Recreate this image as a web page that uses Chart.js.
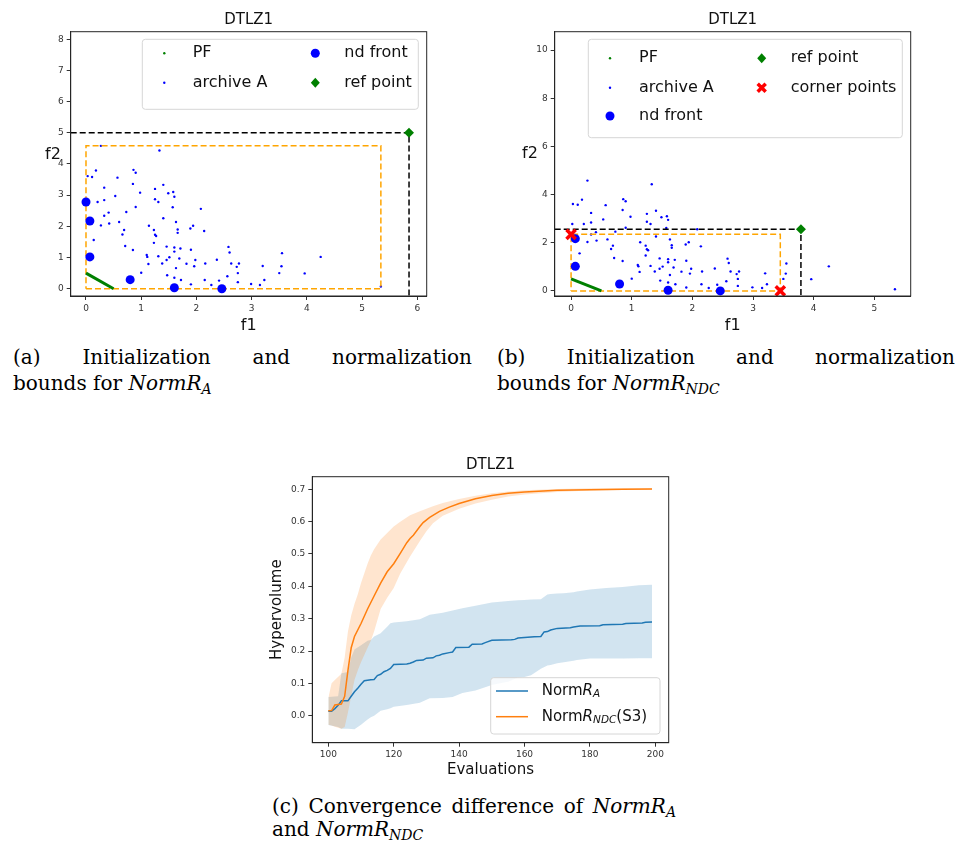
<!DOCTYPE html>
<html>
<head>
<meta charset="utf-8">
<script src="https://cdn.jsdelivr.net/npm/chart.js@4.4.0/dist/chart.umd.min.js"></script>
<style>
  body { margin: 0; background: #fff; }
  #page { position: relative; width: 969px; height: 847px; overflow: hidden; }
  canvas { position: absolute; }
  .cap { position: absolute; font-family: "DejaVu Serif", serif; font-size: 20px; line-height: 26px; color: #000; white-space: nowrap; }
  .just { text-align: justify; text-align-last: justify; white-space: normal; }
  .cap sub { font-size: 14px; vertical-align: -4px; }
</style>
</head>
<body>
<div id="page">
  <canvas id="chartA" width="470" height="340" style="left:0;top:0"></canvas>
  <canvas id="chartB" width="470" height="340" style="left:484px;top:0"></canvas>
  <canvas id="chartC" width="440" height="345" style="left:258px;top:440px"></canvas>

  <div class="cap just" style="left:13px;top:344px;width:459px">(a) Initialization and normalization</div>
  <div class="cap" style="left:13px;top:370px">bounds for <i>NormR</i><sub><i>A</i></sub></div>
  <div class="cap just" style="left:497px;top:344px;width:458px">(b) Initialization and normalization</div>
  <div class="cap" style="left:497px;top:370px">bounds for <i>NormR</i><sub><i>NDC</i></sub></div>
  <div class="cap just" style="left:272px;top:793px;width:404px">(c) Convergence difference of <i>NormR</i><sub><i>A</i></sub></div>
  <div class="cap" style="left:272px;top:816px">and <i>NormR</i><sub><i>NDC</i></sub></div>
</div>
<script>
// archive A (same archive in both scatter plots)
var archF1 = [0.03, 0.11, 0.18, 0.21, 0.14, 0.27, 0.33, 0.33, 0.33, 0.41, 0.42, 0.53, 0.57, 0.60, 0.66, 0.69, 0.73, 0.71, 0.85, 0.86,
              0.90, 0.90, 0.85, 0.98, 1.00, 1.10, 1.11, 1.13, 1.14, 1.23, 1.23, 1.25, 1.25, 1.25, 1.27, 1.31, 1.31, 1.33, 1.38, 1.40,
              1.40, 1.46, 1.47, 1.46, 1.49, 1.51, 1.58, 1.57, 1.60, 1.60, 1.60, 1.60, 1.63, 1.63, 1.66, 1.66, 1.69, 1.71, 1.72, 1.82,
              1.90, 1.90, 1.89, 1.94, 1.96, 1.98, 2.08, 2.14, 2.16, 2.15, 2.27, 2.37, 2.41, 2.56, 2.58, 2.60, 2.63, 2.73, 2.75, 2.75,
              2.77, 2.99, 3.15, 3.20, 3.23, 3.50, 3.54, 3.55, 3.96, 4.25, 5.34, 0.27, 0.02];
var archF2 = [3.61, 3.58, 3.79, 2.78, 1.56, 2.03, 2.34, 2.84, 3.24, 2.44, 2.09, 2.97, 3.56, 2.14, 1.74, 1.88, 2.46, 1.37, 3.36, 3.81,
              3.72, 2.62, 1.24, 3.08, 0.51, 1.08, 1.02, 0.79, 2.02, 1.88, 1.47, 3.20, 2.87, 1.73, 1.69, 2.78, 1.04, 4.43, 0.81, 3.33,
              2.26, 1.35, 0.43, 0.92, 3.06, 1.01, 3.10, 2.61, 2.95, 1.32, 1.19, 0.35, 0.66, 2.14, 1.90, 1.79, 0.97, 1.29, 0.28, 0.80,
              1.25, 0.14, 1.93, 2.02, 0.72, 0.92, 2.56, 1.85, 0.81, 0.28, 0.12, 0.93, 0.26, 0.40, 1.34, 1.16, 0.81, 0.70, 0.50, 0.21,
              0.81, 0.15, 0.12, 0.73, 0.28, 0.50, 0.72, 1.14, 0.49, 1.02, 0.07, 4.58, 2.78];

var pfF1 = [0, 0.5];
var pfF2 = [0.5, 0];

var ndF1A = [0.00, 0.07, 0.07, 0.80, 1.60, 2.46];
var ndF2A = [2.78, 2.17, 1.02, 0.29, 0.03, 0.00];
var ndF1B = [0.07, 0.07, 0.80, 1.60, 2.46];
var ndF2B = [2.17, 1.02, 0.29, 0.03, 0.00];

// [f1, f2] of ref point, and normalization box corners
var refA = [5.85, 5.0];
var refB = [3.79, 2.56];
var boxA = [0, 0, 5.34, 4.58];
var boxB = [0, 0, 3.45, 2.35];
var cornerF1 = [0, 3.45];
var cornerF2 = [2.35, 0];

// convergence plot (c)
var evalsA = [100, 101, 102, 103, 104, 106, 107, 108, 109, 110, 111, 113, 114, 115, 116, 117, 118, 119, 120, 124, 125, 126, 127, 129,
              130, 132, 133, 134, 135, 137, 138, 139, 143, 144, 147, 148, 150, 156, 157, 158, 163, 165, 166, 167, 168, 170, 174,
              175, 177, 183, 184, 190, 191, 196, 197, 199];
var hvA = [0.014, 0.014, 0.022, 0.032, 0.046, 0.046, 0.060, 0.074, 0.085, 0.097, 0.108, 0.111, 0.112, 0.124, 0.128, 0.136, 0.140,
           0.146, 0.158, 0.160, 0.162, 0.166, 0.171, 0.172, 0.178, 0.179, 0.185, 0.187, 0.191, 0.195, 0.197, 0.211, 0.212,
           0.221, 0.222, 0.226, 0.233, 0.235, 0.236, 0.240, 0.244, 0.245, 0.259, 0.260, 0.265, 0.270, 0.272, 0.274, 0.277,
           0.278, 0.281, 0.283, 0.285, 0.287, 0.289, 0.290];
var bandXA = [100, 103, 104, 106, 107, 108, 110, 112, 113, 114, 116, 118, 119, 120, 124, 128, 131, 135, 138, 141, 145, 150, 155,
              158, 160, 162, 165, 167, 168, 170, 172, 175, 176, 180, 185, 190, 195, 199];
var hvALo = [-0.029, -0.035, -0.040, -0.040, -0.041, -0.042, -0.028, -0.012, -0.005, 0.000, 0.015, 0.020, 0.023, 0.028, 0.033,
             0.040, 0.054, 0.055, 0.058, 0.070, 0.078, 0.095, 0.105, 0.118, 0.120, 0.125, 0.145, 0.155, 0.157, 0.162, 0.165,
             0.170, 0.172, 0.177, 0.177, 0.177, 0.178, 0.178];
var hvAHi = [0.058, 0.060, 0.131, 0.135, 0.180, 0.205, 0.218, 0.232, 0.234, 0.245, 0.255, 0.275, 0.286, 0.288, 0.292, 0.298,
             0.312, 0.318, 0.325, 0.332, 0.340, 0.350, 0.355, 0.357, 0.358, 0.359, 0.360, 0.375, 0.376, 0.378, 0.379, 0.382,
             0.384, 0.390, 0.395, 0.398, 0.403, 0.405];

var evalsN = [100, 101, 102, 104, 105, 106, 107, 108, 110, 112, 114, 116, 118, 120, 122, 124, 125, 126, 128, 129, 131, 134, 137,
              140, 145, 150, 155, 160, 170, 180, 190, 199];
var hvN = [0.015, 0.016, 0.033, 0.036, 0.060, 0.140, 0.210, 0.245, 0.285, 0.330, 0.370, 0.410, 0.445, 0.470, 0.502, 0.535, 0.548,
           0.558, 0.585, 0.597, 0.613, 0.632, 0.645, 0.656, 0.671, 0.681, 0.688, 0.692, 0.697, 0.699, 0.700, 0.701];
var bandXN = [100, 101, 102, 104, 105, 106, 107, 108, 109, 110, 112, 113, 114, 116, 118, 120, 122, 125, 128, 130, 132, 135, 140,
              145, 150, 155, 160, 170, 180, 190, 199];
var hvNLo = [-0.028, -0.030, -0.034, -0.040, -0.035, 0.010, 0.060, 0.110, 0.140, 0.165, 0.210, 0.232, 0.260, 0.330, 0.365, 0.395,
             0.440, 0.492, 0.540, 0.570, 0.595, 0.618, 0.640, 0.656, 0.668, 0.678, 0.684, 0.692, 0.696, 0.698, 0.699];
var hvNHi = [0.055, 0.100, 0.110, 0.130, 0.180, 0.260, 0.310, 0.345, 0.375, 0.410, 0.470, 0.495, 0.515, 0.545, 0.565, 0.585,
             0.600, 0.620, 0.632, 0.640, 0.648, 0.658, 0.670, 0.680, 0.688, 0.693, 0.697, 0.701, 0.703, 0.703, 0.703];

var xLimA = [-0.277, 6.17], yLimA = [-0.234, 8.24];
var xLimB = [-0.27, 5.60], yLimB = [-0.21, 10.76];

Chart.defaults.font.family = '"DejaVu Sans", sans-serif';
Chart.defaults.animation = false;

function pts(xs, ys) {
  return xs.map(function (x, i) { return { x: x, y: ys[i] }; });
}
function boxPts(b) {
  return [{x: b[0], y: b[1]}, {x: b[2], y: b[1]}, {x: b[2], y: b[3]}, {x: b[0], y: b[3]}, {x: b[0], y: b[1]}];
}

function drawMarker(ctx, mk, x, y) {
  ctx.save();
  if (mk === 'pf' || mk === 'arch') {
    ctx.fillStyle = mk === 'pf' ? '#008000' : '#0000ff';
    ctx.beginPath(); ctx.arc(x, y, 1.2, 0, Math.PI * 2); ctx.fill();
  } else if (mk === 'nd') {
    ctx.fillStyle = '#0000ff';
    ctx.beginPath(); ctx.arc(x, y, 4.5, 0, Math.PI * 2); ctx.fill();
  } else if (mk === 'ref') {
    ctx.fillStyle = '#008000';
    ctx.beginPath(); ctx.moveTo(x, y - 5); ctx.lineTo(x + 4.5, y); ctx.lineTo(x, y + 5); ctx.lineTo(x - 4.5, y); ctx.closePath(); ctx.fill();
  } else if (mk === 'corner') {
    ctx.strokeStyle = '#ff0000'; ctx.lineWidth = 3.5;
    ctx.beginPath(); ctx.moveTo(x - 4, y - 4); ctx.lineTo(x + 4, y + 4); ctx.moveTo(x + 4, y - 4); ctx.lineTo(x - 4, y + 4); ctx.stroke();
  } else {
    ctx.strokeStyle = mk; ctx.lineWidth = 1.5;
    ctx.beginPath(); ctx.moveTo(x, y); ctx.lineTo(x + 32, y); ctx.stroke();
  }
  ctx.restore();
}

function drawRich(ctx, segs, x, y, size) {
  segs.forEach(function (s) {
    var st = s[1] || '';
    var sub = st.indexOf('s') >= 0;
    var fs = sub ? size * 0.7 : size;
    ctx.font = (st.indexOf('i') >= 0 ? 'italic ' : '') + fs + 'px "DejaVu Sans"';
    ctx.fillText(s[0], x, sub ? y + size * 0.22 : y);
    x += ctx.measureText(s[0]).width;
  });
}

// frame, title, horizontal f2 label and the grid legend
var decor = {
  id: 'decor',
  afterDraw: function (chart, args, o) {
    var ctx = chart.ctx, a = chart.chartArea;
    ctx.save();
    ctx.strokeStyle = '#262626'; ctx.lineWidth = 1;
    ctx.strokeRect(a.left, a.top, a.right - a.left, a.bottom - a.top);
    ctx.fillStyle = '#111'; ctx.textAlign = 'center'; ctx.textBaseline = 'middle';
    ctx.font = '15px "DejaVu Sans"';
    ctx.fillText('DTLZ1', (a.left + a.right) / 2, o.titleY);
    if (o.side) {
      ctx.font = '16px "DejaVu Sans"';
      ctx.fillText(o.side[0], o.side[1], o.side[2]);
    }
    var L = o.legend, b = L.box;
    ctx.beginPath();
    ctx.roundRect(b[0], b[1], b[2] - b[0], b[3] - b[1], 3);
    ctx.fillStyle = 'rgba(255,255,255,0.8)'; ctx.fill();
    ctx.strokeStyle = '#d6d6d6'; ctx.lineWidth = 1; ctx.stroke();
    ctx.textAlign = 'left'; ctx.fillStyle = '#111';
    L.items.forEach(function (it) {
      drawMarker(ctx, it[0], it[1], it[2]);
      drawRich(ctx, typeof it[4] === 'string' ? [[it[4]]] : it[4], it[3], it[2], L.size);
    });
    ctx.restore();
  }
};

function axis(lim, step, fit, title, fmt) {
  return {
    type: 'linear', min: lim[0], max: lim[1],
    ticks: { stepSize: step, includeBounds: false, color: '#333', font: { size: 9 }, padding: 3, callback: fmt },
    grid: { display: true, drawOnChartArea: false, drawTicks: true, tickLength: 4, tickColor: '#333' },
    border: { display: true, color: '#262626' },
    title: title,
    afterFit: fit
  };
}

function scatterChart(id, xLim, yLim, yStep, ndF1, ndF2, ref, box, extra, side, legend) {
  var ds = [
    { label: 'archive A', data: pts(archF1, archF2), pointRadius: 1.2, pointBackgroundColor: '#0000ff', pointBorderWidth: 0, order: 7 },
    { label: 'box', data: boxPts(box), showLine: true, pointRadius: 0, borderColor: '#ffa500', borderWidth: 1.5, borderDash: [6, 3], order: 6 },
    { label: 'PF', data: pts(pfF1, pfF2), showLine: true, pointRadius: 0, borderColor: '#008000', borderWidth: 3, order: 5 },
    { label: 'ref lines', data: [{x: xLim[0], y: ref[1]}, {x: ref[0], y: ref[1]}, {x: ref[0], y: yLim[0]}], showLine: true,
      pointRadius: 0, borderColor: '#000', borderWidth: 1.5, borderDash: [6, 3], order: 4 },
    { label: 'nd front', data: pts(ndF1, ndF2), pointRadius: 4.5, pointBackgroundColor: '#0000ff', pointBorderWidth: 0, order: 3 },
    { label: 'ref point', data: [{x: ref[0], y: ref[1]}], pointStyle: 'rectRot', pointRadius: 5, pointBackgroundColor: '#008000',
      pointBorderWidth: 0, order: 2 }
  ].concat(extra);
  return new Chart(document.getElementById(id), {
    type: 'scatter',
    data: { datasets: ds },
    options: {
      responsive: false,
      layout: { padding: { top: 31.7, right: 43.3, left: 0, bottom: 0 } },
      plugins: { legend: { display: false }, tooltip: { enabled: false },
        decor: { titleY: 20, side: side, legend: legend } },
      scales: {
        x: axis(xLim, 1, function (s) { s.height = 44; },
          { display: true, text: 'f1', color: '#111', font: { size: 16 }, padding: { top: 0, bottom: 5 } }),
        y: axis(yLim, yStep, function (s) { s.width = 70.7; }, { display: false })
      }
    },
    plugins: [decor]
  });
}

scatterChart('chartA', xLimA, yLimA, 1, ndF1A, ndF2A, refA, boxA, [], ['f2', 53, 155], {
  box: [142.3, 39.3, 418.3, 109.3], size: 16,
  items: [['pf', 164.3, 53.3, 192.7, 'PF'], ['arch', 164.3, 82.7, 192.7, 'archive A'],
          ['nd', 315.3, 53.3, 344.3, 'nd front'], ['ref', 315.3, 82.7, 344.3, 'ref point']]
});

scatterChart('chartB', xLimB, yLimB, 2, ndF1B, ndF2B, refB, boxB, [
  { label: 'corner points', data: pts(cornerF1, cornerF2), pointStyle: 'crossRot', pointRadius: 6.5, borderColor: '#ff0000',
    pointBorderWidth: 3.5, order: 1 }
], ['f2', 46, 154], {
  box: [104.3, 39.3, 418.3, 137.7], size: 16,
  items: [['pf', 126, 58.3, 155, 'PF'], ['arch', 126, 87.7, 155, 'archive A'], ['nd', 126, 116, 155, 'nd front'],
          ['ref', 277.7, 58.3, 306.7, 'ref point'], ['corner', 277.7, 87.7, 306.7, 'corner points']]
});

new Chart(document.getElementById('chartC'), {
  type: 'line',
  data: {
    datasets: [
      { label: 'A lo', data: pts(bandXA, hvALo), borderWidth: 0, pointRadius: 0, fill: false, order: 4 },
      { label: 'A hi', data: pts(bandXA, hvAHi), borderWidth: 0, pointRadius: 0, fill: '-1', backgroundColor: 'rgba(31,119,180,0.2)', order: 4 },
      { label: 'N lo', data: pts(bandXN, hvNLo), borderWidth: 0, pointRadius: 0, fill: false, order: 3 },
      { label: 'N hi', data: pts(bandXN, hvNHi), borderWidth: 0, pointRadius: 0, fill: '-1', backgroundColor: 'rgba(255,127,14,0.2)', order: 3 },
      { label: 'NormR_A', data: pts(evalsA, hvA), borderColor: '#1f77b4', borderWidth: 1.5, pointRadius: 0, fill: false, order: 2 },
      { label: 'NormR_NDC(S3)', data: pts(evalsN, hvN), borderColor: '#ff7f0e', borderWidth: 1.5, pointRadius: 0, fill: false, order: 1 }
    ]
  },
  options: {
    responsive: false,
    layout: { padding: { top: 36.7, right: 29.3, left: 0, bottom: 0 } },
    plugins: { legend: { display: false }, tooltip: { enabled: false },
      decor: { titleY: 25, legend: {
        box: [232.7, 237.7, 402, 294], size: 15,
        items: [['#1f77b4', 238, 251, 283.7, [['Norm'], ['R', 'i'], ['A', 'is']]],
                ['#ff7f0e', 238, 276.7, 283.7, [['Norm'], ['R', 'i'], ['NDC', 'is'], ['(S3)']]]]
      } } },
    scales: {
      x: axis([95.1, 204.1], 20, function (s) { s.height = 42.3; },
        { display: true, text: 'Evaluations', color: '#111', font: { size: 15 }, padding: { top: 0, bottom: 6 } }),
      y: axis([-0.0835, 0.739], 0.1, function (s) { s.width = 54.3; },
        { display: true, text: 'Hypervolume', color: '#111', font: { size: 15 }, padding: { top: 10, bottom: 0 } },
        function (v) { return Math.abs(v).toFixed(1); })
    }
  },
  plugins: [decor]
});
</script>
</body>
</html>
